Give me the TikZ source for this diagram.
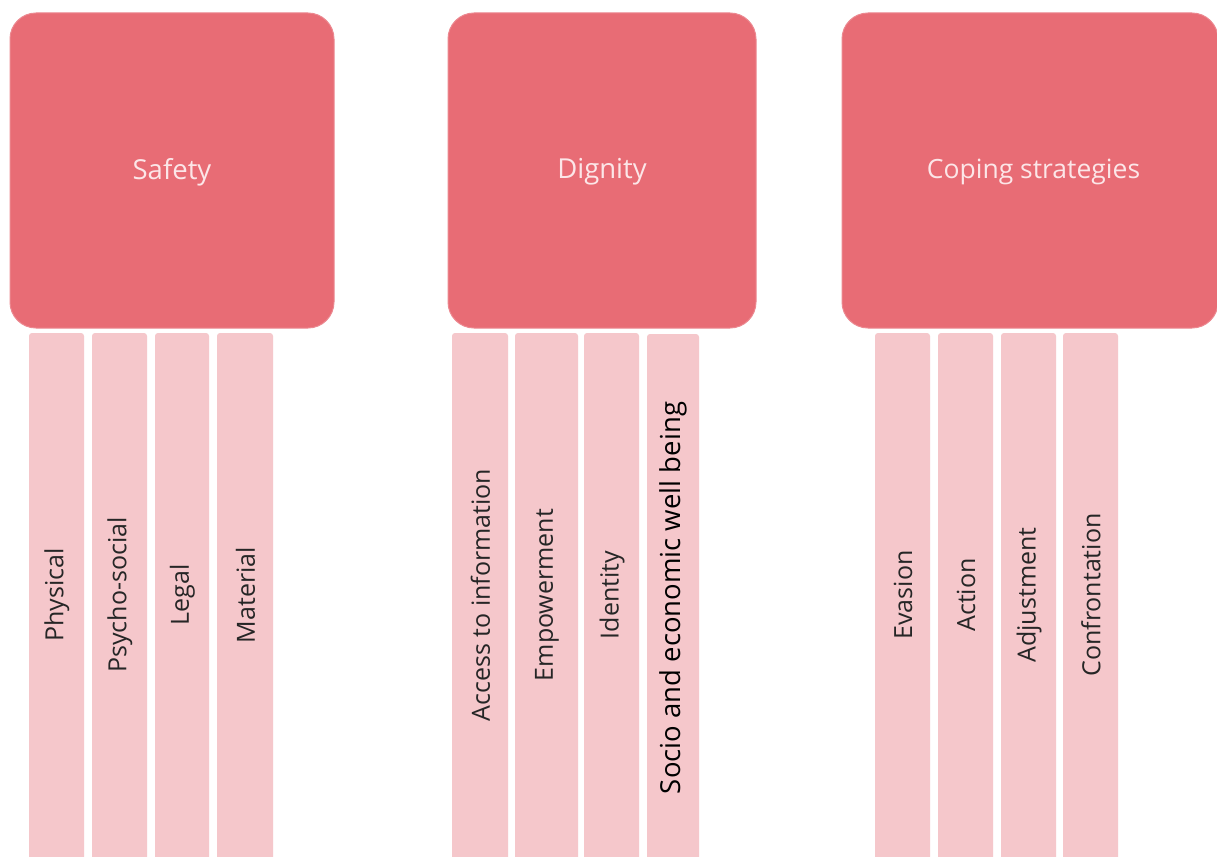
\documentclass[tikz,border=0pt]{standalone}
\usepackage{fontspec}
\setmainfont{Open Sans}
\definecolor{mainred}{HTML}{E86C75}
\definecolor{mainedge}{HTML}{EC8890}
\definecolor{subpink}{HTML}{F5C7CB}
\definecolor{headtext}{HTML}{FCE6E8}
\definecolor{subtext}{HTML}{262626}
\begin{document}
\begin{tikzpicture}[x=1pt,y=-1pt,
  head/.style={fill=mainred, draw=mainedge, line width=1pt, rounded corners=26pt,
    minimum height=315pt, inner sep=0pt},
  headlabel/.style={text=headtext, font=\fontsize{27.5}{32}\selectfont, inner sep=0pt},
  subbox/.style={fill=subpink, draw=none, rounded corners=3pt, minimum height=540pt, inner sep=0pt},
  sublabel/.style={rotate=90, text=subtext, font=\fontsize{25}{30}\selectfont, inner sep=0pt}]
\useasboundingbox (0,0) rectangle (1217,856);
\clip (0,0) rectangle (1217,856);
\fill[white] (0,0) rectangle (1217,856);
% heads
\node[head, minimum width=324pt] (safety) at (172,170.5) {};
\node[head, minimum width=308pt] (dignity) at (602,170.5) {};
\node[head, minimum width=376pt] (coping) at (1030,170.5) {};
\node[headlabel] (safetytxt) at (172,172) {Safety};
\node[headlabel] (dignitytxt) at (602,172) {Dignity};
\node[headlabel, font=\fontsize{26.5}{32}\selectfont] (copingtxt) at (1033.5,172) {Coping strategies};
% safety subs
\node[subbox, minimum width=55pt] (p1) at (56.5,603) {};
\node[subbox, minimum width=55pt] (p2) at (119.5,603) {};
\node[subbox, minimum width=54pt] (p3) at (182,603) {};
\node[subbox, minimum width=56pt] (p4) at (245,603) {};
\node[sublabel] (p1t) at (57,595) {Physical};
\node[sublabel] (p2t) at (120,595) {Psycho-social};
\node[sublabel] (p3t) at (182.5,595) {Legal};
\node[sublabel] (p4t) at (245.5,595) {Material};
% dignity subs
\node[subbox, minimum width=56pt] (d1) at (480,603) {};
\node[subbox, minimum width=63pt] (d2) at (546.5,603) {};
\node[subbox, minimum width=55pt] (d3) at (611.5,603) {};
\node[subbox, minimum width=52pt] (d4) at (673,604) {};
\node[sublabel] (d1t) at (480.5,595) {Access to information};
\node[sublabel] (d2t) at (547,595) {Empowerment};
\node[sublabel] (d3t) at (612,595) {Identity};
\node[sublabel, text=black, font=\fontsize{27.5}{32}\selectfont] (d4t) at (673.5,598) {Socio and economic well being};
% coping subs
\node[subbox, minimum width=55pt] (c1) at (902.5,603) {};
\node[subbox, minimum width=55pt] (c2) at (965.5,603) {};
\node[subbox, minimum width=55pt] (c3) at (1028.5,603) {};
\node[subbox, minimum width=55pt] (c4) at (1090.5,603) {};
\node[sublabel] (c1t) at (903,595) {Evasion};
\node[sublabel] (c2t) at (966,595) {Action};
\node[sublabel] (c3t) at (1029,595) {Adjustment};
\node[sublabel] (c4t) at (1091,595) {Confrontation};
\end{tikzpicture}
\end{document}
